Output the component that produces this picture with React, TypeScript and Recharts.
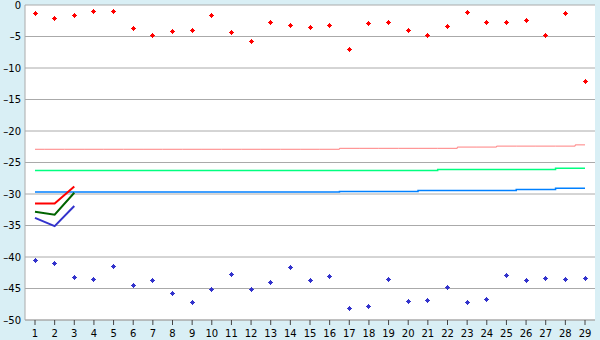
import React from 'react';
import { ComposedChart, Line, XAxis, YAxis, CartesianGrid } from 'recharts';

const days = ['1','2','3','4','5','6','7','8','9','10','11','12','13','14','15','16','17','18','19','20','21','22','23','24','25','26','27','28','29'];

const highPoints = [-1.3,-2.1,-1.6,-1.0,-1.0,-3.7,-4.8,-4.2,-4.0,-1.6,-4.3,-5.8,-2.8,-3.2,-3.5,-3.2,-7.0,-2.9,-2.8,-4.0,-4.8,-3.4,-1.2,-2.8,-2.8,-2.4,-4.8,-1.3,-12.1];
const lowPoints = [-40.5,-41.0,-43.2,-43.5,-41.5,-44.5,-43.7,-45.8,-47.2,-45.1,-42.8,-45.1,-44.0,-41.6,-43.7,-43.1,-48.1,-47.8,-43.5,-47.0,-46.9,-44.8,-47.2,-46.7,-42.9,-43.7,-43.4,-43.5,-43.4];

const redLine = [-31.5,-31.5,-28.8];
const greenLine = [-32.8,-33.3,-29.8];
const blueLine = [-33.8,-35.1,-31.9];

const pinkStep = [-22.9,-22.9,-22.9,-22.9,-22.9,-22.9,-22.9,-22.9,-22.9,-22.9,-22.9,-22.9,-22.9,-22.9,-22.9,-22.9,-22.75,-22.75,-22.75,-22.75,-22.75,-22.75,-22.55,-22.55,-22.4,-22.4,-22.4,-22.4,-22.2];
const mintStep = [-26.25,-26.25,-26.25,-26.25,-26.25,-26.25,-26.25,-26.25,-26.25,-26.25,-26.25,-26.25,-26.25,-26.25,-26.25,-26.25,-26.25,-26.25,-26.25,-26.25,-26.25,-26.1,-26.1,-26.1,-26.1,-26.1,-26.1,-25.9,-25.9];
const skyStep = [-29.7,-29.7,-29.7,-29.7,-29.7,-29.7,-29.7,-29.7,-29.7,-29.7,-29.7,-29.7,-29.7,-29.7,-29.7,-29.7,-29.6,-29.6,-29.6,-29.6,-29.45,-29.45,-29.45,-29.45,-29.45,-29.3,-29.3,-29.1,-29.1];

const yTicks = [0,-5,-10,-15,-20,-25,-30,-35,-40,-45,-50];

const data = days.map((d, i) => ({
  day: d,
  high: highPoints[i],
  low: lowPoints[i],
  red: redLine[i],
  green: greenLine[i],
  blue: blueLine[i],
  pink: pinkStep[i],
  mint: mintStep[i],
  sky: skyStep[i],
}));

// small pixel-aligned diamond marker
const marker = (color: string) => (props: any) => {
  const { cx, cy, index } = props;
  if (cx == null || cy == null) return <g key={index} />;
  const x = Math.floor(cx);
  const y = Math.floor(cy);
  return (
    <g key={index} fill={color} shapeRendering="crispEdges">
      <rect x={x} y={y - 2} width={1} height={5} />
      <rect x={x - 1} y={y - 1} width={3} height={3} />
      <rect x={x - 2} y={y} width={5} height={1} />
    </g>
  );
};

const tickStyle = { fill: '#000', fontSize: 10, fontFamily: 'DejaVu Sans' };

export default function App() {
  return (
    <div style={{ position: 'absolute', left: 0, top: 0, width: 600, height: 340, background: '#d9eff5' }}>
      <ComposedChart width={600} height={340} data={data} margin={{ top: 5, right: 5, bottom: 0, left: 0 }}>
        <CartesianGrid vertical={false} stroke="#aaaaaa" fill="#ffffff" />
        <XAxis
          dataKey="day"
          stroke="#aaaaaa"
          tick={tickStyle}
          tickLine={{ stroke: '#444' }}
          tickSize={5}
          tickMargin={5}
          height={20}
          interval={0}
          padding={{ left: 10, right: 10 }}
        />
        <YAxis
          domain={[-50, 0]}
          ticks={yTicks}
          stroke="#aaaaaa"
          tick={tickStyle}
          tickLine={false}
          tickSize={2}
          tickMargin={2}
          width={25}
          interval={0}
          tickFormatter={(v: number) => (v < 0 ? '\u2013' + Math.abs(v) : String(v))}
        />
        <YAxis yAxisId="frame" orientation="right" width={0} tick={false} tickLine={false} stroke="#aaaaaa" />
        <Line type="step" dataKey="pink" stroke="#ff8080" strokeWidth={1} dot={false} isAnimationActive={false} />
        <Line type="step" dataKey="mint" stroke="#00ff80" strokeWidth={1.5} dot={false} isAnimationActive={false} />
        <Line type="step" dataKey="sky" stroke="#0080ff" strokeWidth={1.5} dot={false} isAnimationActive={false} />
        <Line type="linear" dataKey="red" stroke="#ff0000" strokeWidth={2} dot={false} isAnimationActive={false} />
        <Line type="linear" dataKey="green" stroke="#006400" strokeWidth={2} dot={false} isAnimationActive={false} />
        <Line type="linear" dataKey="blue" stroke="#3333cc" strokeWidth={2} dot={false} isAnimationActive={false} />
        <Line dataKey="high" stroke="none" dot={marker('#ff0000')} activeDot={false} isAnimationActive={false} />
        <Line dataKey="low" stroke="none" dot={marker('#3333cc')} activeDot={false} isAnimationActive={false} />
      </ComposedChart>
    </div>
  );
}
